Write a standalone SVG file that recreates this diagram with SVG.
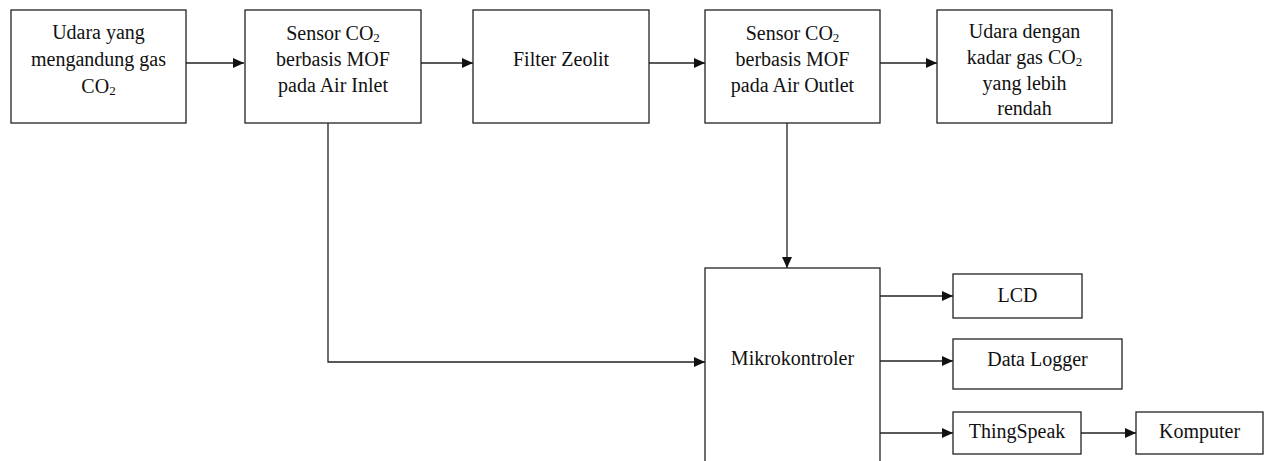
<svg xmlns="http://www.w3.org/2000/svg" width="1266" height="461" viewBox="0 0 1266 461">
<defs>
<style>
.box{fill:#fff;stroke:#222;stroke-width:1.3}
.t{font-family:"Liberation Serif","Times New Roman",serif;font-size:20px;fill:#111;text-anchor:middle}
.sub{font-size:13px}
.c{fill:none;stroke:#222;stroke-width:1.3}
</style>
<marker id="ah" markerUnits="userSpaceOnUse" markerWidth="12" markerHeight="10" refX="11" refY="5" orient="auto">
<path d="M0,0 L11,5 L0,10 Z" fill="#111"/>
</marker>
</defs>
<rect width="1266" height="461" fill="#fff"/>
<g id="connectors">
<path class="c" d="M186,63 H244" marker-end="url(#ah)"/>
<path class="c" d="M421,63 H473" marker-end="url(#ah)"/>
<path class="c" d="M649,63 H705" marker-end="url(#ah)"/>
<path class="c" d="M880,63 H937" marker-end="url(#ah)"/>
<path class="c" d="M328,123 V362 H705" marker-end="url(#ah)"/>
<path class="c" d="M787,123 V268" marker-end="url(#ah)"/>
<path class="c" d="M880,296 H953" marker-end="url(#ah)"/>
<path class="c" d="M880,361 H953" marker-end="url(#ah)"/>
<path class="c" d="M880,433 H953" marker-end="url(#ah)"/>
<path class="c" d="M1081,433 H1136" marker-end="url(#ah)"/>
</g>
<g id="udara-in">
<rect class="box" x="11" y="10" width="175" height="113"/>
<text class="t" x="98.5" y="39">Udara yang</text>
<text class="t" x="98.5" y="66">mengandung gas</text>
<text class="t" x="98.5" y="93">CO<tspan class="sub" dy="2">2</tspan></text>
</g>
<g id="sensor-inlet">
<rect class="box" x="245" y="10" width="176" height="113"/>
<text class="t" x="333" y="40">Sensor CO<tspan class="sub" dy="2">2</tspan></text>
<text class="t" x="333" y="66">berbasis MOF</text>
<text class="t" x="333" y="92">pada Air Inlet</text>
</g>
<g id="filter">
<rect class="box" x="473" y="10" width="176" height="113"/>
<text class="t" x="561" y="66">Filter Zeolit</text>
</g>
<g id="sensor-outlet">
<rect class="box" x="705" y="10" width="175" height="113"/>
<text class="t" x="792.5" y="40">Sensor CO<tspan class="sub" dy="2">2</tspan></text>
<text class="t" x="792.5" y="66">berbasis MOF</text>
<text class="t" x="792.5" y="92">pada Air Outlet</text>
</g>
<g id="udara-out">
<rect class="box" x="937" y="10" width="175" height="113"/>
<text class="t" x="1024.5" y="38">Udara dengan</text>
<text class="t" x="1024.5" y="64">kadar gas CO<tspan class="sub" dy="2">2</tspan></text>
<text class="t" x="1024.5" y="90">yang lebih</text>
<text class="t" x="1024.5" y="115">rendah</text>
</g>
<g id="mikrokontroler">
<rect class="box" x="705" y="268" width="175" height="220"/>
<text class="t" x="792.5" y="365">Mikrokontroler</text>
</g>
<g id="lcd">
<rect class="box" x="953" y="274" width="129" height="44"/>
<text class="t" x="1017.5" y="302">LCD</text>
</g>
<g id="datalogger">
<rect class="box" x="953" y="339" width="169" height="50"/>
<text class="t" x="1037.5" y="366">Data Logger</text>
</g>
<g id="thingspeak">
<rect class="box" x="953" y="412" width="128" height="42"/>
<text class="t" x="1017" y="438">ThingSpeak</text>
</g>
<g id="komputer">
<rect class="box" x="1136" y="412" width="127" height="42"/>
<text class="t" x="1199.5" y="438">Komputer</text>
</g>
</svg>
